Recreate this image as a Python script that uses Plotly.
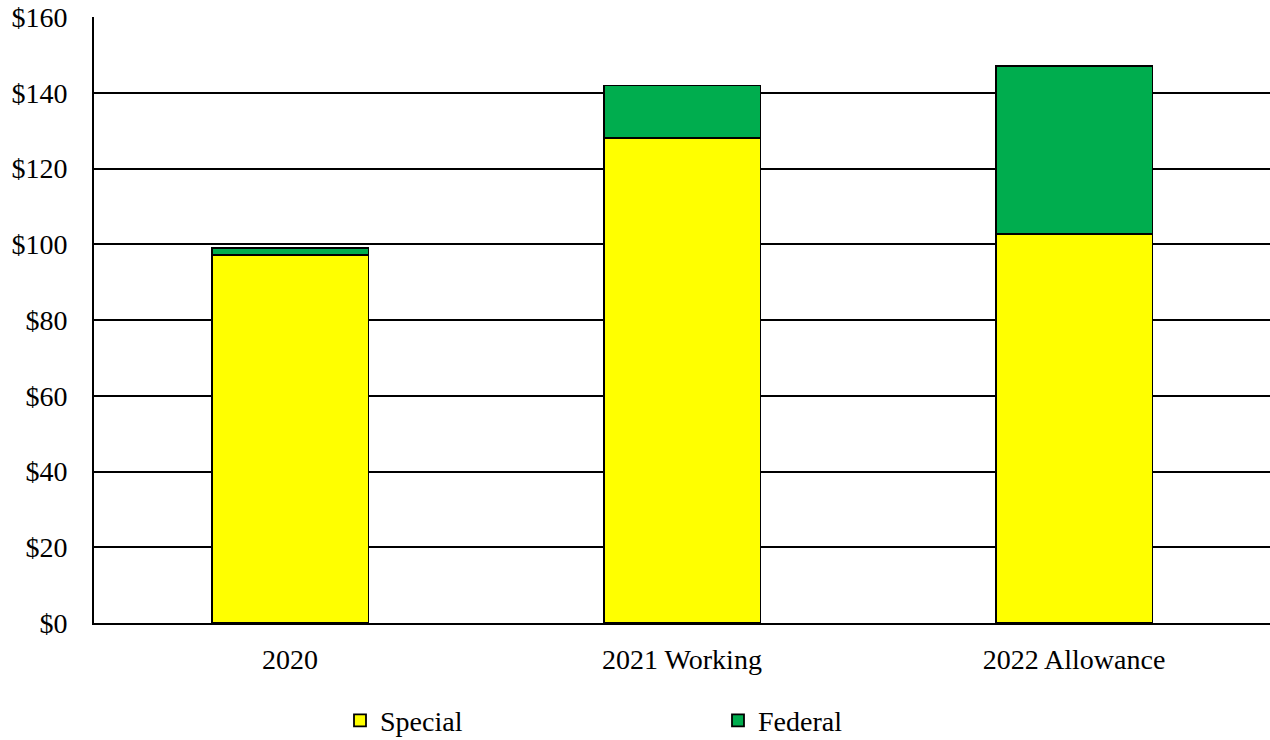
import plotly.graph_objects as go

categories = ["2020", "2021 Working", "2022 Allowance"]
special = [97.2, 128.0, 102.8]
federal = [1.9, 13.9, 44.3]
tick_vals = [0, 20, 40, 60, 80, 100, 120, 140, 160]
tick_text = ["$0", "$20", "$40", "$60", "$80", "$100", "$120", "$140", "$160"]

FONT = "Liberation Serif, Times New Roman, serif"

fig = go.Figure()
fig.add_trace(go.Bar(x=categories, y=special, name="Special",
                     marker=dict(color="#FFFF00", line=dict(color="black", width=1.8))))
fig.add_trace(go.Bar(x=categories, y=federal, name="Federal",
                     marker=dict(color="#00AD4E", line=dict(color="black", width=1.8))))

fig.update_layout(
    barmode="stack",
    bargap=0.6,
    width=1270, height=740,
    margin=dict(l=94, r=0, t=17, b=117, autoexpand=False),
    plot_bgcolor="white", paper_bgcolor="white",
    font=dict(family=FONT, size=28, color="black"),
    showlegend=True,
    legend=dict(orientation="h", x=(340 - 94) / 1176, y=0.026, xref="paper", yref="container",
                xanchor="left", yanchor="middle",
                entrywidth=333, entrywidthmode="pixels",
                font=dict(family=FONT, size=28, color="black"),
                traceorder="normal", bgcolor="rgba(0,0,0,0)"),
    xaxis=dict(showline=True, linecolor="black", linewidth=1.8, ticks="",
               ticklabelstandoff=10, showgrid=False, automargin=False),
    yaxis=dict(range=[0, 160], tickvals=tick_vals, ticktext=tick_text,
               showline=True, linecolor="black", linewidth=1.8,
               showgrid=True, gridcolor="black", gridwidth=1.5,
               ticks="", ticklabelstandoff=19, zeroline=False, automargin=False),
)

fig.write_html("out.html", config={"displayModeBar": False},
               post_script="document.body.style.margin='0';document.body.style.overflow='hidden';")
